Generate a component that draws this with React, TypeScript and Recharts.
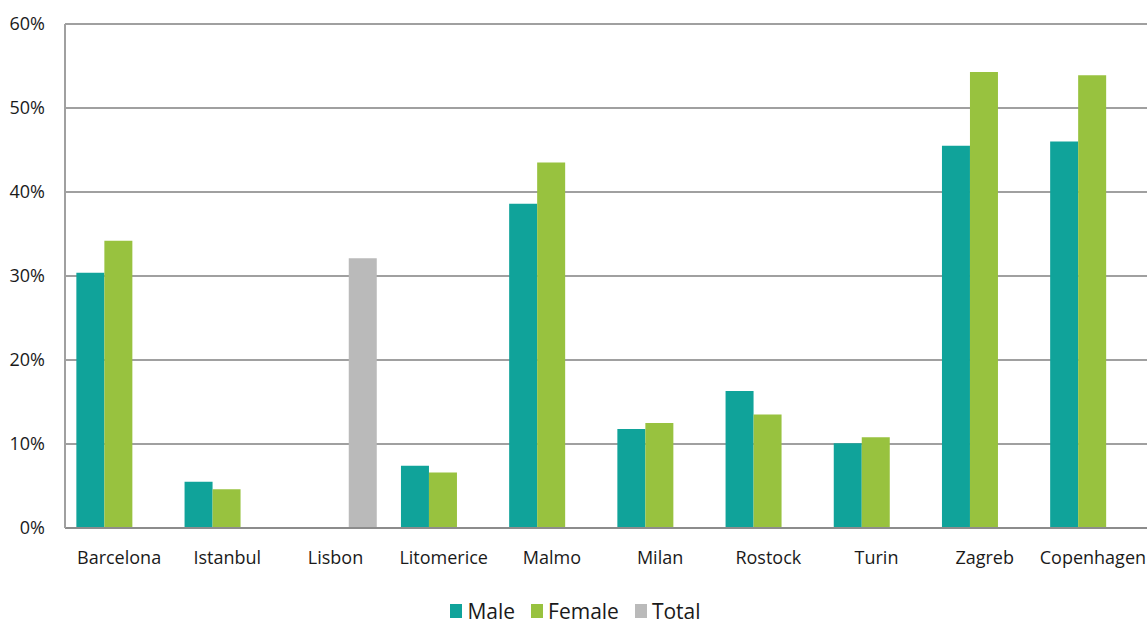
import { BarChart, Bar, XAxis, YAxis, CartesianGrid, Legend } from "recharts";

const cities = ["Barcelona", "Istanbul", "Lisbon", "Litomerice", "Malmo", "Milan", "Rostock", "Turin", "Zagreb", "Copenhagen"];
const male = [30.4, 5.5, null, 7.4, 38.6, 11.8, 16.3, 10.1, 45.5, 46.0];
const female = [34.2, 4.6, null, 6.6, 43.5, 12.5, 13.5, 10.8, 54.3, 53.9];
const total = [null, null, 32.1, null, null, null, null, null, null, null];
const yTicks = [0, 10, 20, 30, 40, 50, 60];

const series = [
  { key: "Male", color: "#10a39a" },
  { key: "Female", color: "#98c23f" },
  { key: "Total", color: "#bababa" },
];

const data = cities.map((city, i) => ({
  city,
  Male: male[i],
  Female: female[i],
  Total: total[i],
}));

const FONT = "'Open Sans', sans-serif";

function LegendBox() {
  return (
    <div style={{ display: "flex", justifyContent: "center", alignItems: "center", gap: 16, paddingTop: 14, paddingLeft: 4, fontSize: 21, lineHeight: "22px", color: "#1a1a1a", fontFamily: FONT }}>
      {series.map((s) => (
        <div key={s.key} style={{ display: "flex", alignItems: "center", gap: 5 }}>
          <span style={{ display: "inline-block", width: 12, height: 14, background: s.color }} />
          <span>{s.key}</span>
        </div>
      ))}
    </div>
  );
}

export default function App() {
  return (
    <div style={{ position: "absolute", left: 0, top: 0, width: 1147, height: 623, background: "#fff", fontFamily: FONT }}>
      <BarChart
        width={1147}
        height={623}
        data={data}
        margin={{ top: 24, right: 0, left: 0, bottom: 0 }}
        barCategoryGap="10.5%"
        barGap={0}
      >
        <CartesianGrid vertical={false} stroke="#a0a0a0" strokeWidth={2} />
        <XAxis
          dataKey="city"
          stroke="#8c8c8c"
          strokeWidth={2}
          tickLine={false}
          height={58}
          tickMargin={17}
          tick={{ fill: "#1a1a1a", fontSize: 18, fontFamily: FONT }}
        />
        <YAxis
          width={65}
          domain={[0, 60]}
          ticks={yTicks}
          tickFormatter={(v) => `${v}%`}
          stroke="#a0a0a0"
          strokeWidth={2}
          tickLine={false}
          tickMargin={14}
          tick={{ fill: "#1a1a1a", fontSize: 18, fontFamily: FONT }}
        />
        <Legend verticalAlign="bottom" height={37} content={<LegendBox />} />
        {series.map((s) => (
          <Bar key={s.key} dataKey={s.key} fill={s.color} isAnimationActive={false} />
        ))}
      </BarChart>
    </div>
  );
}
